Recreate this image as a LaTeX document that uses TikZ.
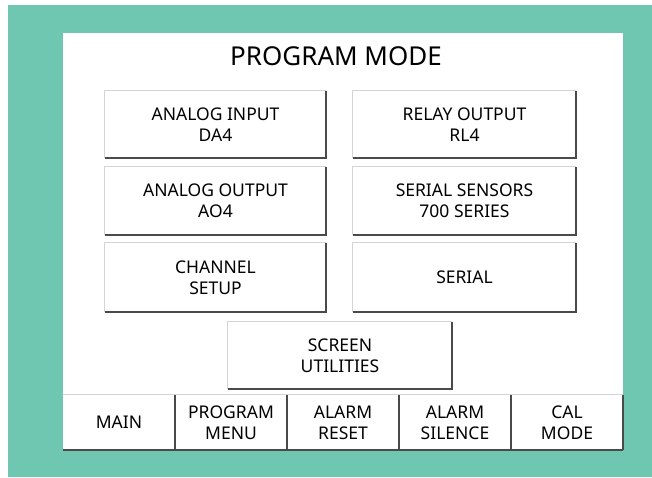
\documentclass[tikz,border=0pt]{standalone}
\usepackage{fontspec}
\setmainfont{Noto Sans}
\definecolor{bgteal}{HTML}{70C7B1}
\definecolor{btnshadow}{HTML}{4A4A4A}
\definecolor{btnlite}{HTML}{D4D4D4}
\tikzset{
  btn/.style={minimum width=#1, minimum height=67pt, inner sep=0pt, fill=white, align=center,
    font=\fontsize{17.5}{21}\selectfont, text=black},
  barbtn/.style={minimum width=112pt, minimum height=55pt, inner sep=0pt, fill=white, align=center,
    font=\fontsize{17.5}{21}\selectfont, text=black},
}
\newcommand{\bevel}[1]{%
  \draw[btnlite, line width=1.2pt] (#1.south west) -- (#1.north west) -- (#1.north east);
  \draw[btnshadow, line width=2pt] (#1.south west) -- (#1.south east) -- (#1.north east);}
\begin{document}
\begin{tikzpicture}[x=1pt, y=-1pt]
\useasboundingbox (0,0) rectangle (652,477);
\fill[white] (0,0) rectangle (652,477);
\fill[bgteal] (8,5) rectangle (652,477);
\fill[white] (63,33) rectangle (623,450);
\node[font=\fontsize{26}{30}\selectfont, text=black] (title) at (336,56) {PROGRAM MODE};
\node[btn=221pt] (ai) at (215.5,124.5) {ANALOG INPUT\\DA4};
\node[btn=223pt] (ro) at (464.5,124.5) {RELAY OUTPUT\\RL4};
\node[btn=221pt, minimum height=68pt] (ao) at (215.5,201) {ANALOG OUTPUT\\AO4};
\node[btn=223pt, minimum height=68pt] (ss) at (464.5,201) {SERIAL SENSORS\\700 SERIES};
\node[btn=221pt, minimum height=69pt] (cs) at (215.5,277.5) {CHANNEL\\SETUP};
\node[btn=223pt, minimum height=69pt] (se) at (464.5,277.5) {SERIAL};
\node[btn=224pt] (su) at (340,355.5) {SCREEN\\UTILITIES};
\foreach \n in {ai,ro,ao,ss,cs,se,su} {\bevel{\n}}
\node[barbtn] (main) at (119,422.5) {MAIN};
\node[barbtn] (pm) at (231,422.5) {PROGRAM\\MENU};
\node[barbtn] (ar) at (343,422.5) {ALARM\\RESET};
\node[barbtn] (as) at (455,422.5) {ALARM\\SILENCE};
\node[barbtn] (cm) at (567,422.5) {CAL\\MODE};
\draw[btnlite, line width=1pt] (main.north west) -- (cm.north east);
\draw[btnshadow, line width=2pt] (main.south west) -- (cm.south east);
\foreach \n in {main,pm,ar,as,cm} {\draw[btnshadow, line width=1.6pt] (\n.north east) -- (\n.south east);}
\end{tikzpicture}
\end{document}
